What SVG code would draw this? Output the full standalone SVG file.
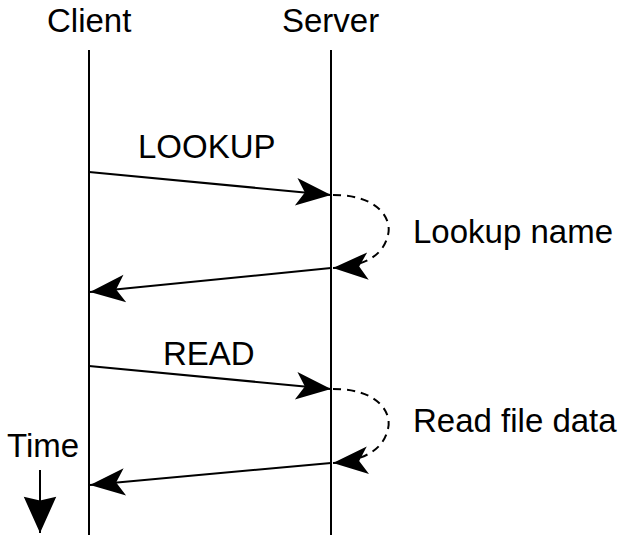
<svg xmlns="http://www.w3.org/2000/svg" width="630" height="555" viewBox="0 0 630 555">
<style>
text{font-family:"Liberation Sans",Arial,sans-serif;font-size:33px;fill:#000}
.l{stroke:#000;stroke-width:2;fill:none}
.d{stroke:#000;stroke-width:2;fill:none;stroke-dasharray:8,6}
</style>
<defs>
<marker id="ah" markerUnits="userSpaceOnUse" markerWidth="40" markerHeight="40" viewBox="-30 -15 32 30" refX="0" refY="0" orient="auto">
<path d="M0,0 L-28,-11 L-21,0 L-28,11 Z" fill="#000"/>
</marker>
<marker id="ta" markerUnits="userSpaceOnUse" markerWidth="40" markerHeight="40" viewBox="-30 -15 32 30" refX="0" refY="0" orient="auto">
<path d="M0,0 L-29,-13 L-26,0 L-29,13 Z" fill="#000"/>
</marker>
</defs>
<rect width="630" height="555" fill="#fff"/>
<g id="client">
<text x="47" y="32">Client</text>
<line class="l" x1="89" y1="50" x2="89" y2="535"/>
</g>
<g id="server">
<text x="282" y="32">Server</text>
<line class="l" x1="331" y1="50" x2="331" y2="535"/>
</g>
<g id="time">
<text x="7" y="457">Time</text>
<line class="l" x1="40" y1="470" x2="40" y2="533" marker-end="url(#ta)"/>
</g>
<g id="lookup-name"><text x="413" y="243">Lookup name</text></g>
<g id="read-file-data"><text x="413" y="432">Read file data</text></g>
<g id="connectors">
<text x="138" y="158">LOOKUP</text>
<line class="l" x1="89" y1="172" x2="331" y2="195" marker-end="url(#ah)"/>
<path class="d" d="M333,195 C380,195 392,220 388,235 C384,252 370,266 333,268" marker-end="url(#ah)"/>
<line class="l" x1="331" y1="268" x2="90" y2="292" marker-end="url(#ah)"/>
<text x="163" y="365">READ</text>
<line class="l" x1="89" y1="366" x2="331" y2="389" marker-end="url(#ah)"/>
<path class="d" d="M333,389 C380,389 392,414 388,429 C384,446 370,460 333,463" marker-end="url(#ah)"/>
<line class="l" x1="331" y1="463" x2="90" y2="485" marker-end="url(#ah)"/>
</g>
</svg>
